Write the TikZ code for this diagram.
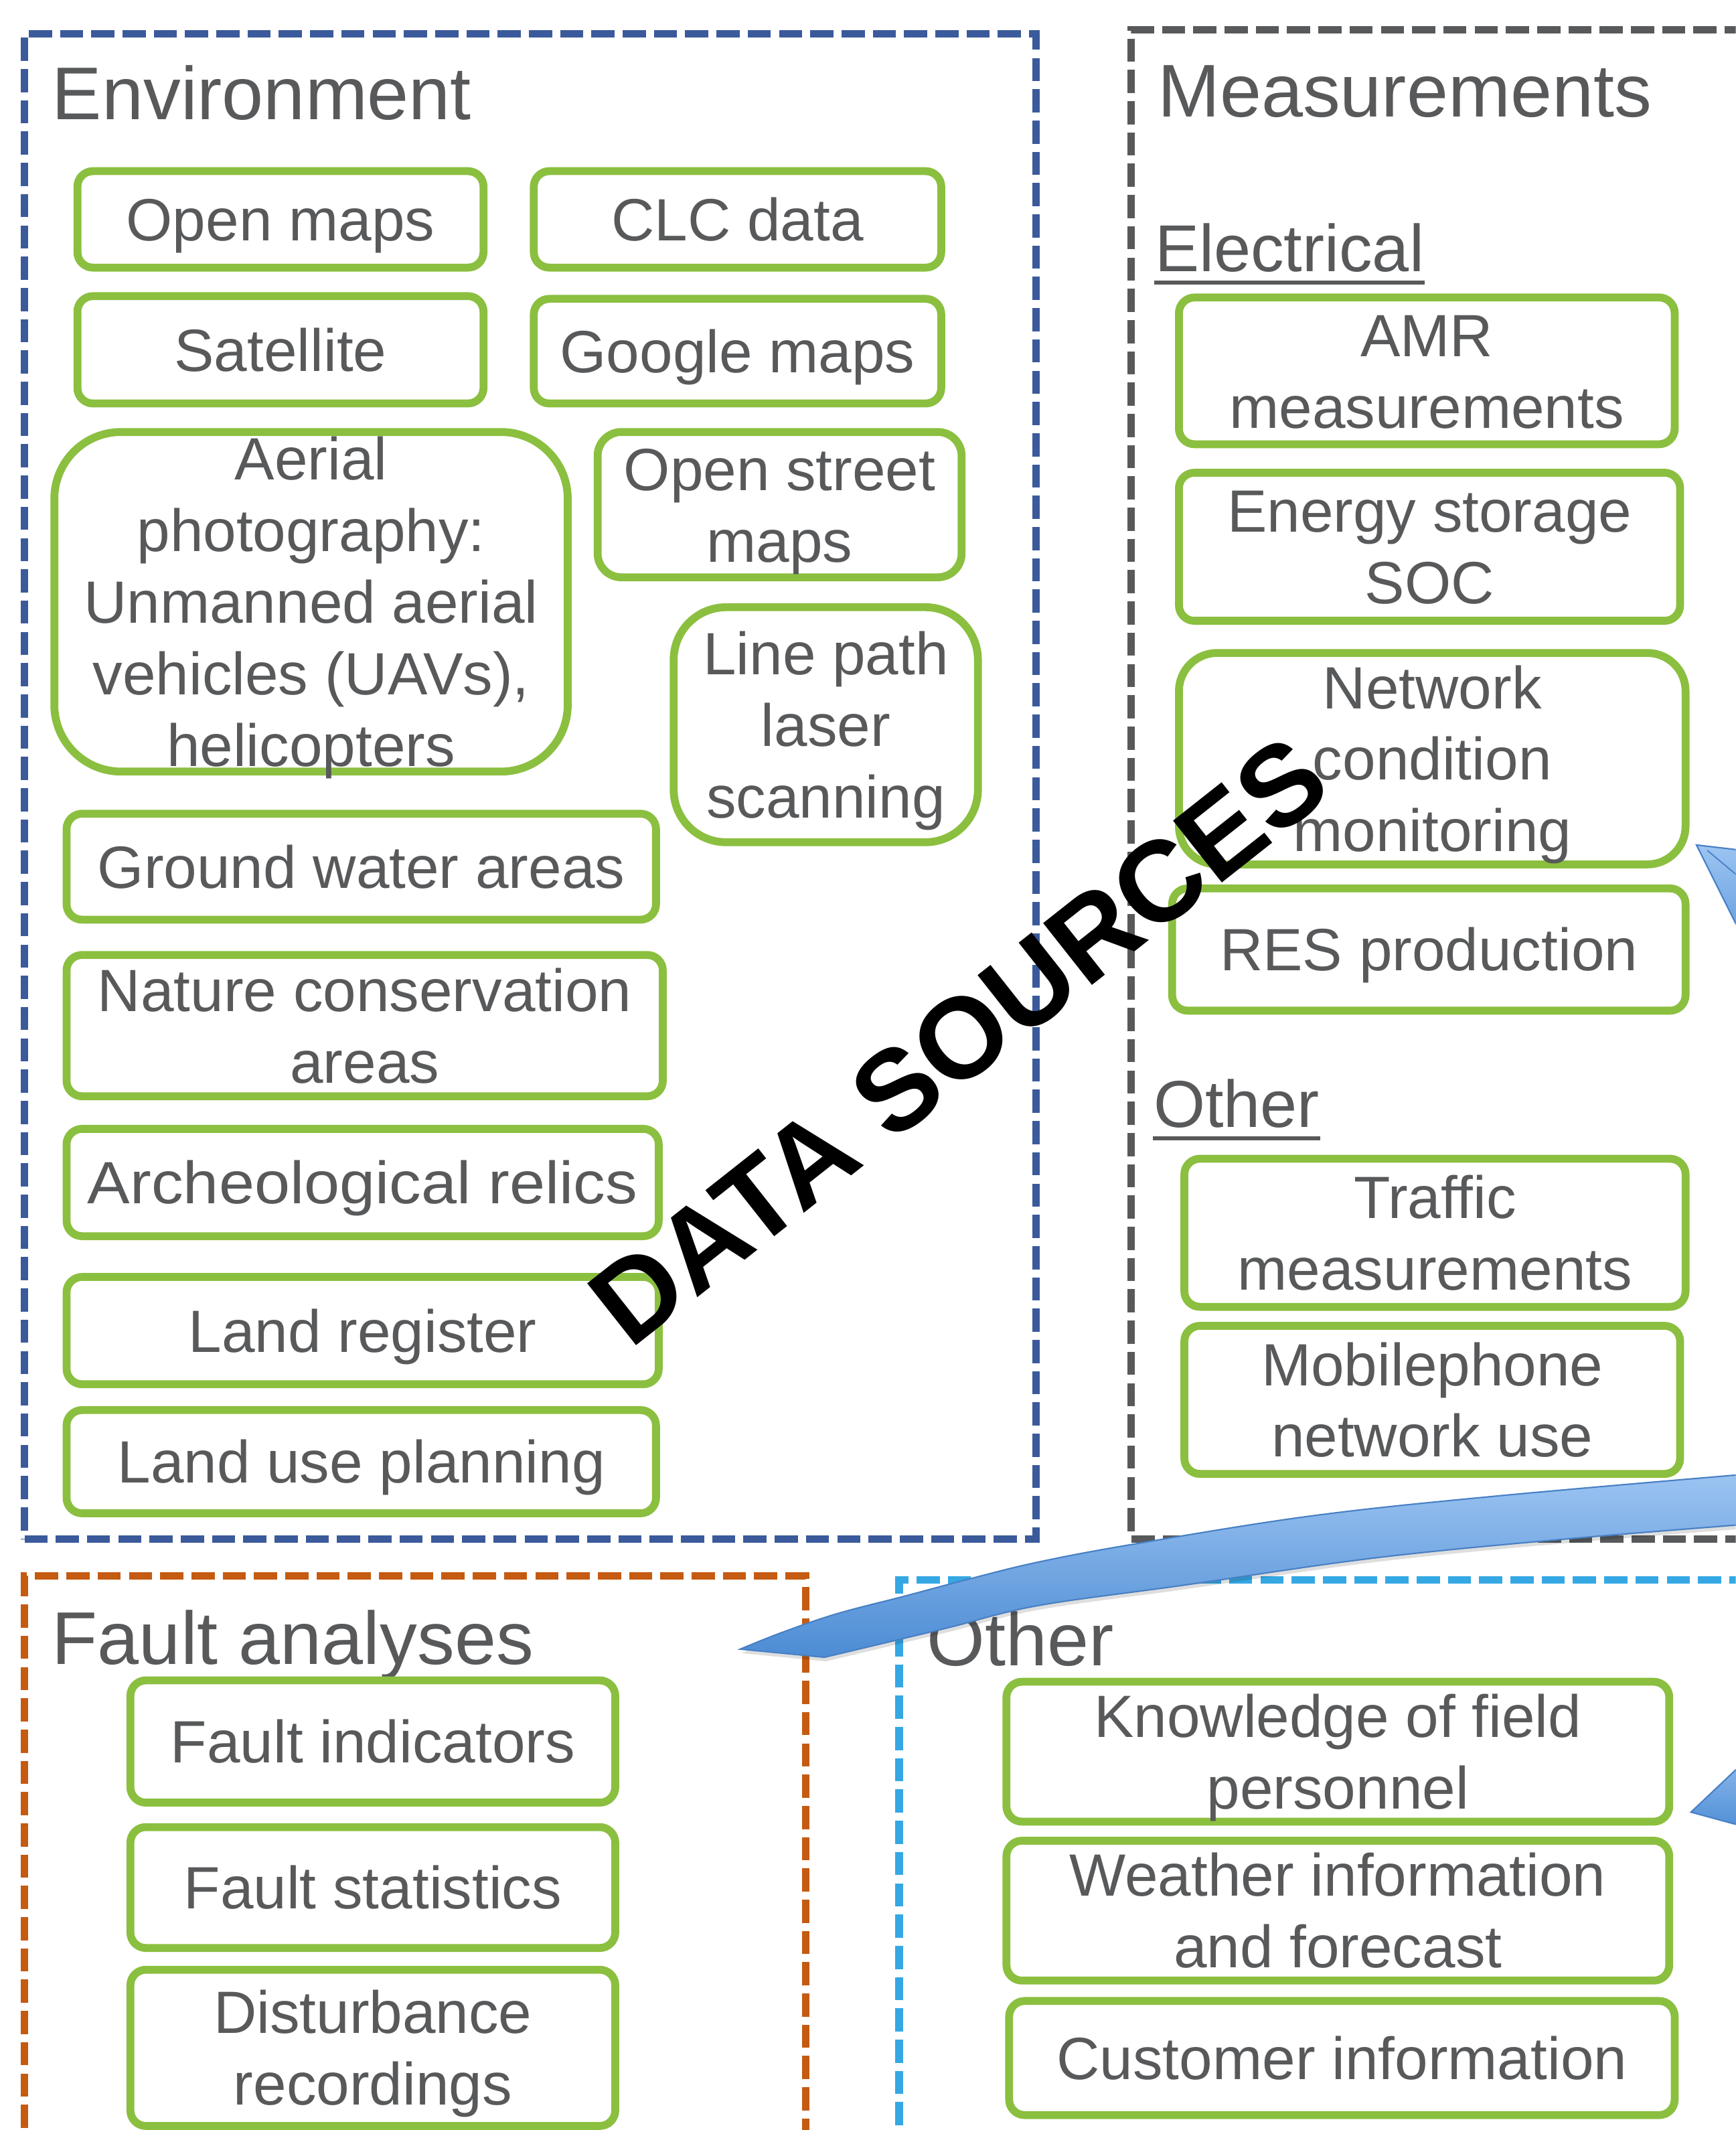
\documentclass[tikz,border=0pt]{standalone}
\usepackage{graphicx}
\usepackage{fontspec}
\setmainfont{Liberation Sans}
\usetikzlibrary{calc}
\definecolor{txtgray}{RGB}{88,89,91}
\definecolor{boxgreen}{RGB}{139,191,63}
\definecolor{envblue}{RGB}{59,90,155}
\definecolor{measgray}{RGB}{88,89,91}
\definecolor{faultorange}{RGB}{197,90,17}
\definecolor{otherblue}{RGB}{53,168,228}
\definecolor{arrowlight}{RGB}{156,196,242}
\definecolor{arrowdark}{RGB}{76,140,212}
\definecolor{arrowedge}{RGB}{72,128,196}
\newcommand{\lnstrut}{\rule[-0.214em]{0pt}{1.144em}}
\tikzset{
  sz/.style 2 args={minimum width=#1*0.02cm, minimum height=#2*0.02cm},
  btxt/.style={inner sep=0pt, align=center, text=txtgray, font=\fontsize{25}{30}\selectfont},
  gbox/.style={btxt, draw=boxgreen, line width=3.3pt, rounded corners=6.5pt},
  grp/.style={inner sep=0pt, line width=3.1pt, dash pattern=on 9.7pt off 3.4pt},
  title/.style={anchor=base west, inner sep=0pt, text=txtgray, font=\fontsize{31.3}{37}\selectfont},
  subtitle/.style={anchor=base west, inner sep=0pt, text=txtgray, font=\fontsize{27.8}{33}\selectfont},
  arrowfill/.style={top color=arrowlight, bottom color=arrowdark, draw=arrowedge, line width=0.6pt},
}
\begin{document}
\begin{tikzpicture}[x=0.02cm,y=-0.02cm]
\useasboundingbox (0,0) rectangle (1278,1568);
\clip (0,0) rectangle (1278,1568);
\fill[white] (0,0) rectangle (1278,1568);

% group frames
\node[grp, draw=envblue, sz={745}{1108}] (env) at (390.5,579) {};
\node[grp, draw=measgray, sz={477}{1111}] (meas) at (1071.5,577.5) {};
\node[grp, draw=faultorange, sz={575}{440}] (fault) at (305.5,1380) {};
\node[grp, draw=otherblue, sz={648}{437}] (other) at (986,1381.5) {};

% titles
\node[title] (envt) at (38,88) {Environment};
\node[title] (meast) at (852,86) {Measurements};
\node[subtitle] (elec) at (850,200) {Electrical};
\node[subtitle] (mother) at (849,830) {Other};
\node[title] (faultt) at (38,1225) {Fault analyses};
\node[title] (othert) at (682,1226) {Other};
\draw[txtgray, line width=1.9pt] ($(elec.base west)+(0,8)$) -- ($(elec.base east)+(0,8)$);
\draw[txtgray, line width=1.9pt] ($(mother.base west)+(0,8)$) -- ($(mother.base east)+(0,8)$);

% environment boxes
\node[gbox, sz={299}{71}] (openmaps) at (206.5,161.5) {\lnstrut Open maps};
\node[gbox, sz={300}{71}] (clc) at (543,161.5) {\lnstrut CLC data};
\node[gbox, sz={299}{79}] (sat) at (206.5,257.5) {\lnstrut Satellite};
\node[gbox, sz={300}{77}] (google) at (543,258.5) {\lnstrut Google maps};
\node[gbox, sz={378}{250}, rounded corners=28pt] (aerial) at (229,443) {};
\node[btxt] (aerialt) at (aerial.center) {\lnstrut Aerial\\\lnstrut photography:\\\lnstrut Unmanned aerial\\\lnstrut vehicles (UAVs),\\\lnstrut helicopters};
\node[gbox, sz={268}{107}, rounded corners=10pt] (osm) at (574,371.5) {\lnstrut Open street\\\lnstrut maps};
\node[gbox, sz={224}{173}, rounded corners=22pt] (laser) at (608,533.5) {\lnstrut Line path\\\lnstrut laser\\\lnstrut scanning};
\node[gbox, sz={434}{78}] (ground) at (266,638) {\lnstrut Ground water areas};
\node[gbox, sz={439}{104}] (nature) at (268.5,755) {\lnstrut Nature conservation\\\lnstrut areas};
\node[gbox, sz={436}{79}] (arch) at (267,870.5) {\lnstrut\scalebox{1.07}[1]{Archeological relics}};
\node[gbox, sz={436}{79}] (landreg) at (267,979.5) {\lnstrut Land register};
\node[gbox, sz={434}{76}] (landuse) at (266,1076) {\lnstrut Land use planning};

% measurement boxes
\node[gbox, sz={365}{108}] (amr) at (1050.5,273) {\lnstrut AMR\\\lnstrut measurements};
\node[gbox, sz={369}{109}] (soc) at (1052.5,402.5) {\lnstrut Energy storage\\\lnstrut SOC};
\node[gbox, sz={373}{155}, rounded corners=16pt] (ncm) at (1054.5,558.5) {\lnstrut Network\\\lnstrut condition\\\lnstrut monitoring};
\node[gbox, sz={378}{90}] (res) at (1052,699) {\lnstrut RES production};
\node[gbox, sz={369}{109}] (traffic) at (1056.5,907.5) {\lnstrut Traffic\\\lnstrut measurements};
\node[gbox, sz={365}{109}] (mobile) at (1054.5,1030.5) {\lnstrut Mobilephone\\\lnstrut network use};

% fault boxes
\node[gbox, sz={357}{90}] (find) at (274.5,1282) {\lnstrut Fault indicators};
\node[gbox, sz={357}{89}] (fstat) at (274.5,1389.5) {\lnstrut Fault statistics};
\node[gbox, sz={357}{115}] (dist) at (274.5,1507.5) {\lnstrut Disturbance\\\lnstrut recordings};

% other boxes
\node[gbox, sz={488}{101}] (know) at (985,1289.5) {\lnstrut Knowledge of field\\\lnstrut personnel};
\node[gbox, sz={488}{101}] (weather) at (985,1406.5) {\lnstrut Weather information\\\lnstrut and forecast};
\node[gbox, sz={490}{84}] (cust) at (988,1515) {\lnstrut Customer information};

% big label
\node[anchor=base west, rotate=38.3, inner sep=0pt, text=black, font=\fontsize{48}{58}\selectfont\bfseries] (ds) at (463.6,994.3) {DATA SOURCES};

% arrows
\begin{scope}[shift={(1,3)}]
\fill[black, opacity=0.13]
  plot[smooth, tension=0.6] coordinates {(545,1214) (575,1202) (616,1188) (666,1175) (715,1162) (764,1150) (833,1137) (965,1116) (1105,1101) (1300,1084)}
  -- plot[smooth, tension=0.6] coordinates {(1300,1121) (1152,1133) (1011,1147) (871,1167) (764,1182) (699,1198) (649,1210) (607,1220)}
  -- cycle;
\end{scope}
\shadedraw[arrowfill]
  plot[smooth, tension=0.6] coordinates {(545,1214) (575,1202) (616,1188) (666,1175) (715,1162) (764,1150) (833,1137) (965,1116) (1105,1101) (1300,1084)}
  -- plot[smooth, tension=0.6] coordinates {(1300,1121) (1152,1133) (1011,1147) (871,1167) (764,1182) (699,1198) (649,1210) (607,1220)}
  -- cycle;
\shadedraw[arrowfill] (1249,622) -- (1300,628) -- (1300,724) -- cycle;
\draw[arrowedge, line width=0.5pt] (1257,626) -- (1300,662);
\shadedraw[arrowfill] (1245,1334) -- (1300,1282) -- (1300,1349) -- cycle;
\end{tikzpicture}
\end{document}
